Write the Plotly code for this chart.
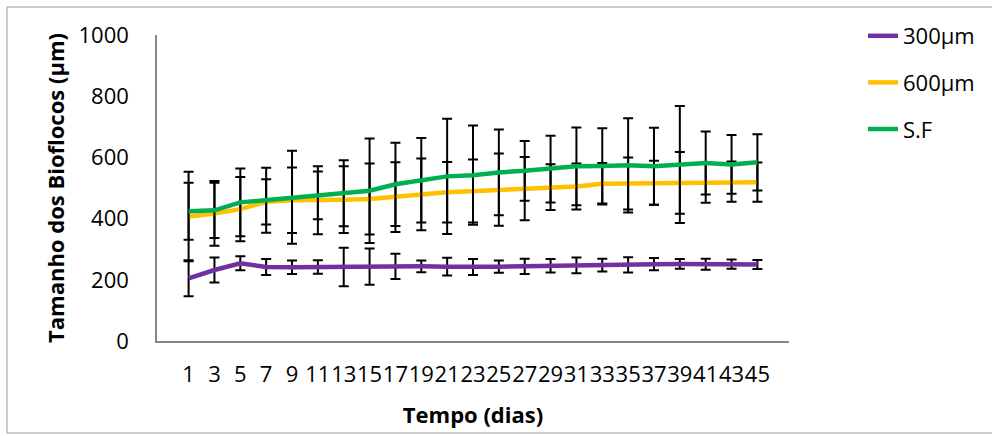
import plotly.graph_objects as go

# Sampling days (categories on the x axis)
days = [1, 3, 5, 7, 9, 11, 13, 15, 17, 19, 21, 23, 25, 27, 29, 31, 33, 35, 37, 39, 41, 43, 45]

# Mean biofloc size (µm) per treatment
size_300 = [205, 232, 254, 242, 241, 242, 242, 243, 244, 244, 243, 242, 243, 244, 246, 247, 248, 249, 251, 252, 251, 251, 250]
size_600 = [407, 417, 431, 455, 460, 460, 462, 464, 470, 479, 486, 490, 495, 498, 503, 505, 514, 515, 517, 517, 518, 521, 519]
size_sf = [424, 427, 453, 460, 470, 476, 483, 491, 512, 525, 538, 542, 551, 556, 562, 571, 572, 574, 571, 577, 582, 577, 584]

# Standard deviations
sd_300 = [59, 41, 23, 26, 22, 22, 63, 59, 41, 19, 29, 26, 20, 25, 22, 26, 21, 25, 20, 16, 18, 15, 15]
sd_600 = [146, 106, 105, 74, 107, 111, 109, 116, 114, 117, 99, 103, 118, 103, 75, 75, 68, 85, 72, 101, 66, 66, 64]
sd_sf = [93, 90, 111, 106, 152, 78, 108, 171, 136, 138, 188, 162, 140, 98, 109, 127, 123, 154, 126, 191, 103, 96, 92]

series_names = ["300µm", "600µm", "S.F"]
series_colors = ["#7030A0", "#FFC000", "#00B050"]

x_labels = [str(d) for d in days]

FONT = "Open Sans"
TICK_SIZE = 22
TITLE_SIZE = 22

fig = go.Figure()
for name, color, vals, errs in zip(series_names, series_colors,
                                    [size_300, size_600, size_sf],
                                    [sd_300, sd_600, sd_sf]):
    fig.add_trace(go.Scatter(
        x=x_labels, y=vals, name=name, mode="lines",
        line=dict(color=color, width=4.5),
        error_y=dict(type="data", array=errs, visible=True,
                     color="black", thickness=2, width=5),
        legendgroup=name,
    ))

W, H = 992, 436
L, R, T, B = 157, 203, 35, 95
pw, ph = W - L - R, H - T - B

def px_x(p):
    return (p - L) / pw

def px_y(p):
    return (H - B - p) / ph

fig.update_layout(
    width=W, height=H,
    margin=dict(l=L, r=R, t=T, b=B, pad=0),
    paper_bgcolor="white", plot_bgcolor="white",
    font=dict(family=FONT, size=TICK_SIZE, color="black"),
    showlegend=True,
    legend=dict(x=px_x(863), y=px_y(15), xanchor="left", yanchor="top",
                font=dict(family=FONT, size=TICK_SIZE, color="black"),
                tracegroupgap=15, itemwidth=30,
                bgcolor="rgba(0,0,0,0)"),
    xaxis=dict(
        type="category", showgrid=False, zeroline=False,
        showline=True, linecolor="#868686", linewidth=1.5,
        tickmode="array", tickvals=x_labels, ticktext=x_labels, tickangle=0,
        ticks="outside", ticklen=13, tickcolor="rgba(0,0,0,0)",
        tickfont=dict(family=FONT, size=TICK_SIZE),
        title=dict(text="<b>Tempo (dias)</b>", font=dict(family=FONT, size=TITLE_SIZE), standoff=20),
    ),
    yaxis=dict(
        range=[0, 1000], dtick=200, showgrid=False, zeroline=False,
        showline=True, linecolor="#868686", linewidth=1.5,
        ticks="outside", ticklen=22, tickcolor="rgba(0,0,0,0)",
        tickfont=dict(family=FONT, size=TICK_SIZE),
        title=dict(text="<b>Tamanho dos Bioflocos (µm)</b>", font=dict(family=FONT, size=TITLE_SIZE), standoff=8),
    ),
    shapes=[dict(type="rect", xref="paper", yref="paper",
                 x0=px_x(7), x1=px_x(1000), y0=px_y(433), y1=px_y(7),
                 line=dict(color="#9a9a9a", width=1), fillcolor="rgba(0,0,0,0)",
                 layer="below")],
)

fig.write_html("out.html")
